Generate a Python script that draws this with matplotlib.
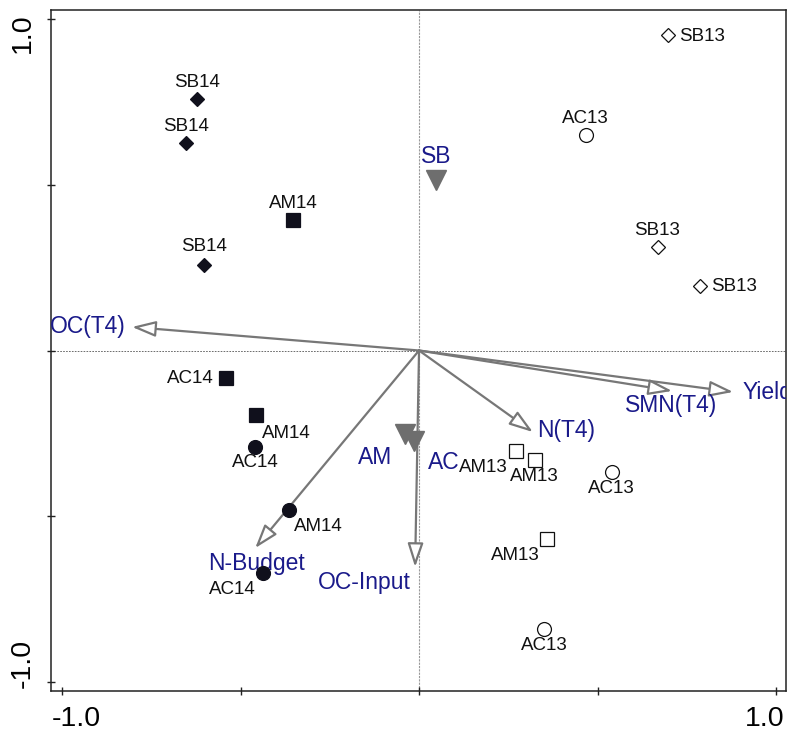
import matplotlib
matplotlib.use('Agg')
import matplotlib.pyplot as plt
from matplotlib.transforms import ScaledTranslation
from matplotlib.patches import ArrowStyle

plt.rcParams['font.family'] = ['Liberation Sans', 'DejaVu Sans']

# ---------------- data ----------------
# samples (site scores)
sample_names = ['SB14', 'SB14', 'SB14', 'AM14', 'AC14', 'AM14', 'AC14', 'AM14', 'AC14',
                'SB13', 'SB13', 'SB13', 'AC13', 'AC13', 'AC13', 'AM13', 'AM13', 'AM13']
sample_x = [-0.622, -0.653, -0.602, -0.353, -0.541, -0.457, -0.459, -0.364, -0.437,
            0.697, 0.669, 0.787, 0.468, 0.541, 0.350, 0.272, 0.325, 0.359]
sample_y = [0.759, 0.626, 0.258, 0.394, -0.083, -0.195, -0.291, -0.481, -0.671,
            0.952, 0.312, 0.195, 0.650, -0.367, -0.840, -0.303, -0.330, -0.569]
sample_shape = ['diamond', 'diamond', 'diamond', 'square', 'square', 'square',
                'circle', 'circle', 'circle',
                'diamond', 'diamond', 'diamond', 'circle', 'circle', 'circle',
                'square', 'square', 'square']
sample_year = [2014] * 9 + [2013] * 9

# environmental variables (arrows)
env_names = ['OC(T4)', 'SMN(T4)', 'Yield', 'N(T4)', 'OC-Input', 'N-Budget']
env_x = [-0.804, 0.709, 0.880, 0.319, -0.011, -0.459]
env_y = [0.071, -0.122, -0.125, -0.246, -0.653, -0.596]

# nominal variables (centroids)
cent_names = ['SB', 'AM', 'AC']
cent_x = [0.048, -0.039, -0.014]
cent_y = [0.514, -0.252, -0.273]

tick_values = [-1.0, -0.5, 0.0, 0.5, 1.0]
tick_labels = ['-1.0', '', '', '', '1.0']

# ---------------- layout (label offsets in pixels) ----------------
sample_label_pos = [(0, 16, 'center'), (0, 16, 'center'), (0, 18, 'center'),
                    (0, 16, 'center'), (-12, 0, 'right'), (6, -18, 'left'),
                    (0, -16, 'center'), (5, -17, 'left'), (-7, -17, 'right'),
                    (11, -2, 'left'), (-1, 17, 'center'), (11, -1, 'left'),
                    (-1, 16, 'center'), (-1, -16, 'center'), (0, -16, 'center'),
                    (-8, -17, 'right'), (-1, -17, 'center'), (-7, -16, 'right')]
env_label_pos = [(-6, 0, 'right'), (-1, -15, 'center'), (9, -1, 'left'),
                 (4, 2, 'left'), (-4, -15, 'right'), (1, -15, 'center')]
cent_label_pos = [(0, 24, 'center'), (-13, -23, 'right'), (14, -21, 'left')]

marker_map = {'diamond': ('D', 6.8), 'square': ('s', 9.5), 'circle': ('o', 10)}

# ---------------- figure ----------------
fig = plt.figure(figsize=(7.9, 7.31), dpi=100)
ax = fig.add_axes([51 / 790, 40 / 731, 735 / 790, 681 / 731])
ax.set_xlim(-1.031, 1.028)
ax.set_ylim(-1.027, 1.027)

blue = '#1a1a8a'
grey = '#777777'
dark = '#10101c'

ax.axhline(0, color='#555555', lw=0.6, ls=(0, (2, 1.5)), zorder=1)
ax.axvline(0, color='#999999', lw=0.8, ls=(0, (2, 1)), zorder=1)

# arrows
style = ArrowStyle('-|>', head_length=1.45, head_width=0.48)
for name, x, y, (dx, dy, ha) in zip(env_names, env_x, env_y, env_label_pos):
    ax.annotate('', xy=(x, y), xytext=(0, 0),
                arrowprops=dict(arrowstyle=style, mutation_scale=10, lw=1.6,
                                ec=grey, fc='white', shrinkA=0, shrinkB=0),
                zorder=3)
    ax.annotate(name, xy=(x, y), xytext=(dx, dy), textcoords='offset pixels',
                ha=ha, va='center', fontsize=16.5, color=blue, clip_on=True,
                zorder=5)

# centroids
for name, x, y, (dx, dy, ha) in zip(cent_names, cent_x, cent_y, cent_label_pos):
    ax.plot(x, y, marker='v', ms=15, color='#6e6e6e', mec='#6e6e6e', zorder=4)
    ax.annotate(name, xy=(x, y), xytext=(dx, dy), textcoords='offset pixels',
                ha=ha, va='center', fontsize=16.5, color=blue, zorder=5)

# samples
for name, x, y, shp, yr, (dx, dy, ha) in zip(sample_names, sample_x, sample_y,
                                              sample_shape, sample_year,
                                              sample_label_pos):
    m, ms = marker_map[shp]
    fc = dark if yr == 2014 else 'white'
    ax.plot(x, y, marker=m, ms=ms, mfc=fc, mec=dark if yr == 2014 else '#111111',
            mew=0.9, ls='none', zorder=6)
    ax.annotate(name, xy=(x, y), xytext=(dx, dy), textcoords='offset pixels',
                ha=ha, va='center', fontsize=13.5, color='#111111', zorder=6)

# axes styling
for sp in ax.spines.values():
    sp.set_linewidth(1.1)
    sp.set_color('#222222')
ax.set_xticks(tick_values)
ax.set_xticklabels(tick_labels)
ax.set_yticks(tick_values)
ax.set_yticklabels(tick_labels, rotation=90)
ax.tick_params(direction='inout', length=6, width=1.0, color='#222222',
               labelsize=20.5, pad=8)

xl = ax.get_xticklabels()
xl[0].set_ha('left')
xl[-1].set_ha('right')
xl[0].set_transform(xl[0].get_transform() + ScaledTranslation(-0.10, 0, fig.dpi_scale_trans))
xl[-1].set_transform(xl[-1].get_transform() + ScaledTranslation(0.085, 0, fig.dpi_scale_trans))

yl = ax.get_yticklabels()
yl[0].set_va('bottom')
yl[-1].set_va('top')
yl[0].set_transform(yl[0].get_transform() + ScaledTranslation(0, -0.06, fig.dpi_scale_trans))
yl[-1].set_transform(yl[-1].get_transform() + ScaledTranslation(0, 0.06, fig.dpi_scale_trans))

fig.savefig('out.png', dpi=100)
